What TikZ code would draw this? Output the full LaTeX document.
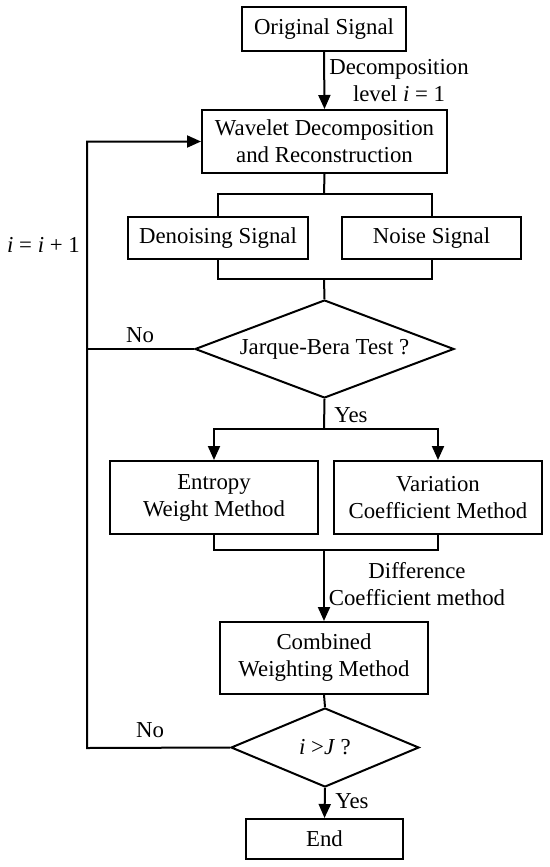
\documentclass[tikz,border=0pt]{standalone}
\usepackage{fontspec}
\setmainfont{Liberation Serif}
\usepackage{tikz}
\usetikzlibrary{shapes.geometric, arrows.meta, positioning, calc}

\tikzset{
  procbox/.style={draw, line width=1pt, inner sep=0pt, align=center},
  testbox/.style={draw, diamond, line width=1pt, inner sep=0pt, align=center},
  flow/.style={line width=1pt},
  lbl/.style={inner sep=0pt, align=center},
}

\begin{document}
\begin{tikzpicture}[x=0.5pt, y=-0.5pt, >={Triangle[length=7pt, width=6pt]},
  font=\fontsize{11.4}{13.5}\selectfont]
\useasboundingbox (0,0) rectangle (550,867);
% --- Boxes ---
\node[procbox, minimum width=82pt, minimum height=22pt] (orig) at (324,29) {Original Signal};
\node[procbox, minimum width=122.5pt, minimum height=31.5pt] (wav) at (324.5,141.5) {Wavelet Decomposition\\and Reconstruction};
\node[procbox, minimum width=90pt, minimum height=21pt] (den) at (218,238) {Denoising Signal};
\node[procbox, minimum width=89.5pt, minimum height=21pt] (noise) at (431.5,238) {Noise Signal};
\node[testbox, aspect=2.64, minimum width=129.5pt, minimum height=49pt] (jb) at (324.5,349) {Jarque-Bera Test ?};
\node[procbox, minimum width=104pt, minimum height=36.5pt] (ent) at (214,497.5) {Entropy\\Weight Method};
\node[procbox, minimum width=104pt, minimum height=36.5pt] (var) at (438,497.5) {Variation\\Coefficient Method};
\node[procbox, minimum width=104pt, minimum height=36pt] (comb) at (324,658) {Combined\\Weighting Method};
\node[testbox, aspect=2.38, minimum width=94pt, minimum height=39.5pt] (jt) at (325,747.5) {\textit{i} >\textit{J} ?};
\node[procbox, minimum width=78.5pt, minimum height=20pt] (endn) at (324.5,839) {End};
% --- Junction points ---
\coordinate (top1) at (324,194);
\coordinate (bot1) at (324,279);
\coordinate (yes1) at (324,429);
\coordinate (bot2) at (324,550);
\coordinate (loop) at (87,748);
% --- Connectors ---
\draw[flow, ->] (orig.south) -- (wav.north);
\draw[flow] (wav.south) -- (top1);
\draw[flow] (den.north) |- (top1) -| (noise.north);
\draw[flow] (den.south) |- (bot1) -| (noise.south);
\draw[flow] (bot1) -- (jb.north);
\draw[flow] (jb.south) -- (yes1);
\draw[flow, ->] (yes1) -| (ent.north);
\draw[flow, ->] (yes1) -| (var.north);
\draw[flow] (ent.south) |- (bot2) -| (var.south);
\draw[flow, ->] (bot2) -- (comb.north);
\draw[flow] (comb.south) -- (jt.north);
\draw[flow, ->] (jt.south) -- (endn.north);
\draw[flow, ->] (jt.west) -- (loop) |- (wav.west);
\draw[flow] (jb.west) -- (loop |- jb.west);
% --- Labels ---
\node[lbl] (declbl) at (399,81) {Decomposition\\level \textit{i} = 1};
\node[lbl] (difflbl) at (417,584) {Difference\\Coefficient method};
\node[lbl] (yeslbl1) at (351,415) {Yes};
\node[lbl] (yeslbl2) at (352,801) {Yes};
\node[lbl] (nolbl1) at (140,335) {No};
\node[lbl] (nolbl2) at (150,730) {No};
\node[lbl] (inclbl) at (43.5,245) {\textit{i} = \textit{i} + 1};
\end{tikzpicture}
\end{document}
